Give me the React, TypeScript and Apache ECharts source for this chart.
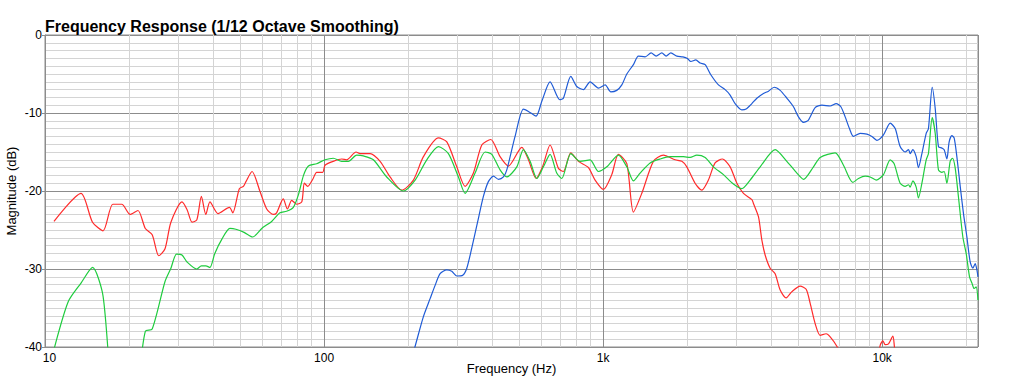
import React, { useEffect, useRef } from "react";
import * as echarts from "echarts";

const titleText = "Frequency Response (1/12 Octave Smoothing)";
const xName = "Frequency (Hz)";
const yName = "Magnitude (dB)";

const redData: number[][] = [
  [10.77, -23.9], [13.46, -20.3], [14.8, -24.0], [16.15, -25.1], [17.5, -21.7], [18.84, -21.7],
  [20.19, -23.0], [21.53, -22.5], [22.88, -24.8], [24.22, -25.6], [25.57, -28.3], [26.92, -27.4],
  [28.26, -24.0], [30.96, -21.4], [32.3, -22.4], [33.65, -24.0], [35.0, -23.7], [36.34, -20.7],
  [37.69, -23.0], [39.0, -21.4], [41.7, -22.9], [45.8, -22.1], [47.1, -22.8], [49.7, -19.7],
  [51.4, -19.4], [52.5, -18.8], [55.2, -17.5], [59.0, -20.1], [62.3, -22.3], [65.8, -23.0],
  [67.6, -22.8], [71.4, -21.0], [73.9, -22.3], [76.6, -21.2], [79.8, -21.7], [83.2, -21.4],
  [85.0, -19.0], [87.4, -19.4], [91.1, -18.5], [94.1, -17.6], [98.9, -17.6], [100.8, -16.7],
  [107.9, -16.2], [115.6, -15.9], [120.5, -16.0], [130.2, -15.0], [134.6, -15.2], [146.2, -15.2],
  [158.8, -16.2], [172.4, -18.2], [189.9, -19.9], [209, -18.6], [227, -15.6], [256.9, -13.2],
  [275.4, -13.7], [299, -16.9], [320.2, -19.4], [342.9, -17.7], [367.5, -14.1], [395.8, -13.4],
  [427.3, -15.6], [457.7, -16.8], [511.2, -14.4], [539.9, -16.0], [575.4, -18.4], [608, -16.8],
  [645.6, -14.1], [691.6, -17.1], [720.5, -17.5], [766, -15.1], [815.5, -16.2], [886, -17.0],
  [936, -18.6], [1002, -19.8], [1074, -17.9], [1134, -15.3], [1216, -16.5], [1284, -22.7],
  [1376, -20.3], [1514, -16.2], [1645, -15.4], [1812, -16.0], [1915, -16.2], [1995, -16.9],
  [2136, -19.0], [2258, -19.9], [2384, -18.6], [2519, -16.4], [2677, -15.9], [2852, -16.9],
  [3015, -19.0], [3184, -20.3], [3412, -21.1], [3457, -21.6], [3603, -23.3], [3706, -26.3],
  [3807, -28.2], [3968, -29.9], [4135, -30.6], [4310, -32.7], [4528, -33.7], [4747, -32.9],
  [5083, -32.2], [5341, -32.6], [5521, -34.4], [5753, -37.0], [5996, -38.5], [6300, -38.3],
  [6512, -38.7], [6880, -39.9], [7300, -42.0], [8500, -44.0], [9500, -42.5], [9650, -41.5],
  [9835, -39.8], [10057, -39.2], [10252, -39.7], [10534, -39.6], [10924, -38.6], [11066, -40.0],
  [11300, -42.5], [15000, -45.0], [22050, -50.0],
];

const greenData: number[][] = [
  [10.77, -40.3], [12.11, -34.2], [13.46, -31.8], [14.8, -29.8], [16.15, -33.5], [17.5, -47.4],
  [18.84, -50.0], [20.19, -48.0], [21.53, -44.4], [22.88, -38.0], [24.22, -37.7], [26.92, -31.6],
  [28.26, -29.9], [29.6, -28.1], [30.96, -28.2], [32.3, -29.1], [35.0, -30.0], [36.34, -29.6],
  [37.69, -29.6], [39.0, -29.8], [40.6, -28.0], [43.0, -26.2], [46.0, -24.8], [48.3, -24.9],
  [51.7, -25.3], [55.5, -25.9], [59.8, -24.8], [64.9, -23.9], [69.5, -22.8], [73.4, -22.6],
  [77.6, -22.1], [80.9, -20.5], [84.4, -18.0], [87.9, -16.8], [94.1, -16.5], [100.8, -16.0],
  [107.9, -15.8], [115.6, -16.2], [122.2, -16.2], [130.9, -15.4], [138.3, -15.5], [150.2, -16.0],
  [167.7, -18.2], [192.4, -20.0], [212, -18.6], [233.4, -16.0], [256.9, -14.3], [279, -15.2],
  [303, -18.2], [320.2, -20.3], [347.7, -17.7], [377.6, -15.0], [399.1, -15.3], [427.3, -17.3],
  [451.7, -18.2], [490.6, -16.9], [518, -14.7], [547.5, -16.2], [578.7, -18.4], [611, -16.9],
  [645.6, -15.3], [682, -17.7], [711, -18.4], [766, -15.2], [827, -16.2], [898, -16.0],
  [962, -17.5], [1031, -16.9], [1134, -15.4], [1216, -16.9], [1284, -18.7], [1357, -17.7],
  [1474, -16.4], [1601, -15.9], [1739, -15.6], [1940, -15.6], [2050, -15.7], [2167, -15.4],
  [2321, -15.7], [2485, -16.9], [2699, -17.9], [2931, -19.1], [3141, -19.7], [3364, -18.6],
  [3654, -16.9], [4135, -14.7], [4554, -16.2], [4947, -17.7], [5224, -18.5], [5673, -16.9],
  [5996, -15.7], [6786, -15.1], [7267, -16.7], [7852, -18.9], [8225, -18.4], [8690, -18.1],
  [9057, -18.2], [9517, -18.6], [10110, -17.9], [10683, -16.0], [11040, -16.5], [11600, -19.0],
  [12090, -19.4], [12430, -19.2], [12600, -19.5], [12880, -18.7], [13240, -19.5], [13490, -20.9],
  [13880, -19.0], [14380, -16.0], [14650, -15.2], [15110, -10.6], [15490, -12.6], [15910, -17.3],
  [16370, -17.6], [16680, -17.5], [17060, -19.0], [17525, -16.2], [17860, -15.8], [18260, -17.0],
  [18770, -20.8], [19460, -25.9], [20000, -28.0], [20560, -31.0], [20970, -31.8], [21360, -32.5],
  [21720, -32.3], [22050, -34.0],
];

const blueData: number[][] = [
  [200, -43.0], [212, -39.9], [227, -36.1], [239.9, -33.8], [250, -32.1], [260.5, -30.6],
  [275.3, -30.1], [286.9, -30.3], [299, -30.9], [314, -30.8], [324.7, -29.9], [338.4, -27.3],
  [354.4, -24.1], [372.4, -20.7], [388, -18.8], [404.5, -18.1], [421.5, -18.5], [439.3, -18.2],
  [451.7, -17.3], [483.6, -13.0], [518, -9.5], [540, -9.8], [575, -10.4], [603, -8.5],
  [645.6, -6.0], [699.6, -8.3], [720.5, -8.1], [766, -5.3], [804.6, -6.6], [850, -7.0],
  [898, -6.0], [962, -6.8], [1017, -6.4], [1066, -7.3], [1119, -7.1], [1167, -6.4],
  [1216, -5.0], [1284, -3.8], [1338, -2.7], [1414, -2.8], [1486, -2.3], [1549, -2.7],
  [1623, -2.3], [1682, -2.7], [1749, -2.3], [1838, -2.7], [1931, -2.8], [2005, -3.0],
  [2062, -3.4], [2149, -3.2], [2227, -3.6], [2321, -3.8], [2432, -5.1], [2590, -6.4],
  [2737, -7.0], [2852, -7.7], [2972, -8.8], [3141, -9.6], [3254, -9.5], [3412, -8.8],
  [3556, -8.1], [3755, -7.5], [3913, -7.2], [4101, -6.7], [4310, -7.1], [4554, -8.1],
  [4810, -9.2], [5012, -10.5], [5224, -11.2], [5443, -10.9], [5753, -9.3], [6079, -9.0],
  [6512, -9.1], [6842, -8.8], [7112, -9.2], [7369, -10.5], [7636, -12.0], [7891, -13.0],
  [8340, -12.6], [8815, -12.7], [9185, -13.0], [9572, -13.5], [10110, -12.8], [10683, -11.3],
  [11134, -12.0], [11600, -14.3], [12090, -15.0], [12430, -14.7], [12600, -15.2], [12880, -14.7],
  [13240, -15.6], [13490, -17.0], [13880, -15.2], [14380, -12.6], [14650, -12.0], [15110, -6.7],
  [15490, -9.4], [15910, -14.3], [16370, -14.5], [16680, -14.7], [17060, -15.9], [17380, -13.7],
  [17770, -12.9], [18110, -13.2], [18520, -15.6], [19040, -19.4], [19560, -22.9], [20120, -25.9],
  [20670, -29.1], [21140, -29.9], [21540, -29.3], [21850, -30.1], [22050, -31.0],
];

const xMinorGrid = [
  20, 30, 40, 50, 60, 70, 80, 90,
  200, 300, 400, 500, 600, 700, 800, 900,
  2000, 3000, 4000, 5000, 6000, 7000, 8000, 9000,
  20000,
];

const xTickLabels: Record<number, string> = { 10: "10", 100: "100", 1000: "1k", 10000: "10k" };

const FONT = "'Liberation Sans', Arial, Helvetica, sans-serif";

export default function App() {
  const ref = useRef<HTMLDivElement>(null);

  useEffect(() => {
    if (!ref.current) return;
    const chart = echarts.init(ref.current, null, { renderer: "svg" });
    const lineSeries = (name: string, data: number[][], color: string, z: number, extra: any = {}) => ({
      name,
      type: "line",
      data,
      showSymbol: false,
      symbol: "none",
      clip: true,
      silent: true,
      smooth: 0.25,
      z,
      lineStyle: { color, width: 1.2 },
      itemStyle: { color },
      emphasis: { disabled: true },
      ...extra,
    });
    chart.setOption({
      animation: false,
      backgroundColor: "#ffffff",
      textStyle: { fontFamily: FONT },
      title: {
        text: titleText,
        left: 45,
        top: 18,
        padding: 0,
        textStyle: { fontSize: 16, fontWeight: "bold", color: "#000", fontFamily: FONT },
      },
      grid: {
        left: 45,
        right: 33,
        top: 35,
        bottom: 38,
        containLabel: false,
        outerBoundsMode: "none",
        show: true,
        borderColor: "#8c8c8c",
        borderWidth: 1,
        backgroundColor: "transparent",
      },
      xAxis: {
        type: "log",
        logBase: 10,
        min: 10,
        max: 22050,
        name: xName,
        nameLocation: "middle",
        nameGap: 15,
        nameMoveOverlap: false,
        nameTextStyle: { fontSize: 13, color: "#000", fontFamily: FONT },
        axisLine: { show: true, lineStyle: { color: "#8c8c8c", width: 1 } },
        axisTick: { show: false },
        axisLabel: {
          fontSize: 12,
          lineHeight: 11,
          color: "#000",
          margin: 5,
          showMaxLabel: false,
          fontFamily: FONT,
          formatter: (v: number) => {
            const k = Math.round(v);
            const s = xTickLabels[k] ?? "";
            return k === 10 ? `{first|${s}}` : s;
          },
          rich: {
            first: { fontSize: 12, lineHeight: 11, color: "#000", fontFamily: FONT, padding: [0, 0, 0, 9] },
          },
        },
        splitLine: { show: true, lineStyle: { color: "#8c8c8c", width: 1 } },
      },
      yAxis: {
        type: "value",
        min: -40,
        max: 0,
        interval: 10,
        name: yName,
        nameLocation: "middle",
        nameGap: 27,
        nameRotate: 90,
        nameMoveOverlap: false,
        nameTextStyle: { fontSize: 13, color: "#000", fontFamily: FONT },
        axisLine: { show: true, lineStyle: { color: "#8c8c8c", width: 1 } },
        axisTick: { show: true, length: 3, lineStyle: { color: "#8c8c8c" } },
        axisLabel: { fontSize: 12, lineHeight: 11, color: "#000", margin: 3, fontFamily: FONT },
        splitLine: { show: true, lineStyle: { color: "#8c8c8c", width: 1 } },
        minorTick: { show: false, splitNumber: 10 },
        minorSplitLine: { show: true, lineStyle: { color: "#d4d4d4", width: 1 } },
      },
      series: [
        lineSeries("Red", redData, "#ff2b2b", 3, {
          markLine: {
            z: 1,
            silent: true,
            symbol: "none",
            label: { show: false },
            emphasis: { disabled: true },
            lineStyle: { color: "#d4d4d4", width: 1, type: "solid" },
            data: xMinorGrid.map((v) => ({ xAxis: v })),
          },
        }),
        lineSeries("Green", greenData, "#1fcc3e", 4),
        lineSeries("Blue", blueData, "#1f5bd6", 5),
      ],
    });
    return () => chart.dispose();
  }, []);

  return (
    <div
      ref={ref}
      style={{ position: "absolute", left: 0, top: 0, width: 1011, height: 385 }}
    />
  );
}
